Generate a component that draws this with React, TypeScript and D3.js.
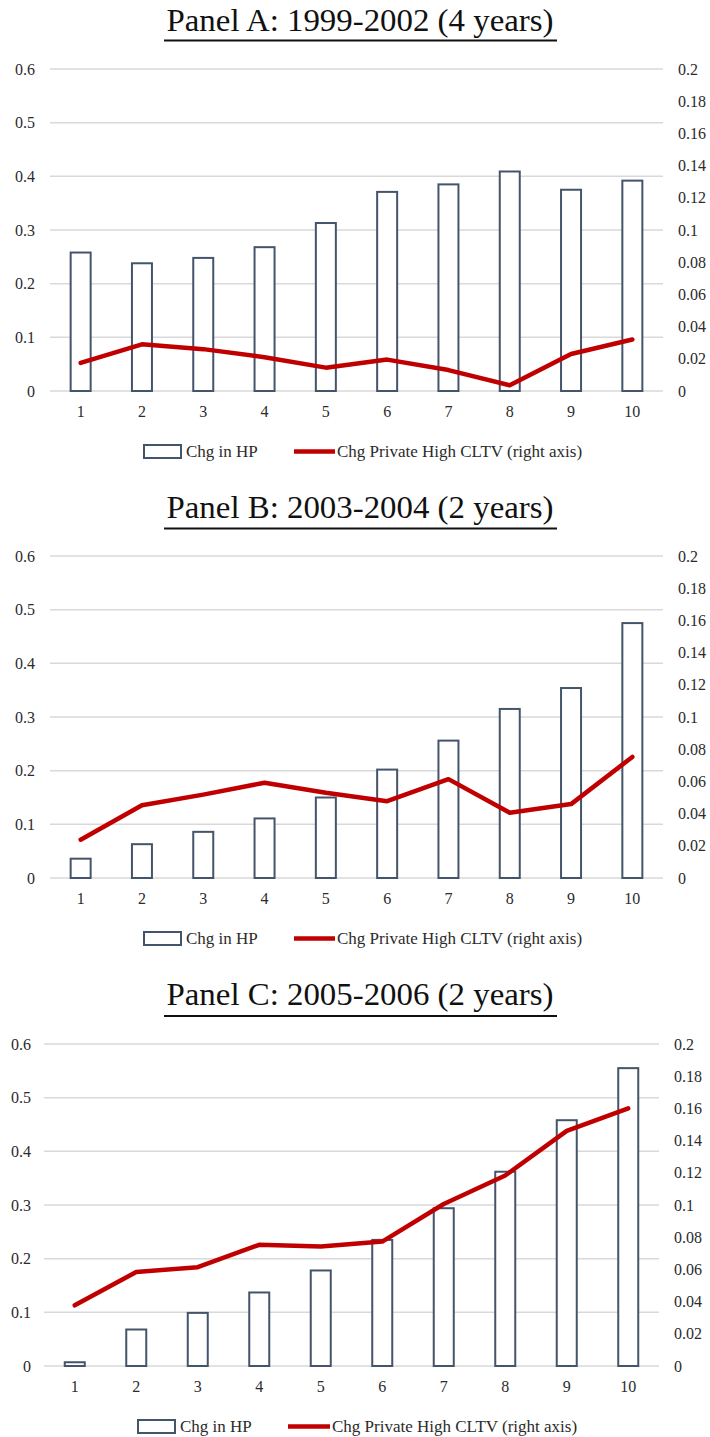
import React from "react";
import * as d3 from "d3";

const categories = ["1", "2", "3", "4", "5", "6", "7", "8", "9", "10"];

const panelTitles = [
  "Panel A: 1999-2002 (4 years)",
  "Panel B: 2003-2004 (2 years)",
  "Panel C: 2005-2006 (2 years)",
];

const hpA = [0.258, 0.238, 0.248, 0.268, 0.313, 0.371, 0.385, 0.409, 0.375, 0.392];
const cltvA = [0.0175, 0.029, 0.026, 0.021, 0.0145, 0.0195, 0.013, 0.0035, 0.023, 0.032];

const hpB = [0.036, 0.063, 0.086, 0.111, 0.15, 0.202, 0.256, 0.315, 0.354, 0.475];
const cltvB = [0.0238, 0.0452, 0.0518, 0.0592, 0.053, 0.0477, 0.0614, 0.0405, 0.0459, 0.0752];

const hpC = [0.007, 0.068, 0.099, 0.137, 0.178, 0.235, 0.294, 0.362, 0.458, 0.555];
const cltvC = [0.0377, 0.0584, 0.0614, 0.0753, 0.0742, 0.0773, 0.1006, 0.1183, 0.146, 0.16];

const leftTicks = [0, 0.1, 0.2, 0.3, 0.4, 0.5, 0.6];
const rightTicks = [0, 0.02, 0.04, 0.06, 0.08, 0.1, 0.12, 0.14, 0.16, 0.18, 0.2];

const legendBar = "Chg in HP";
const legendLine = "Chg Private High CLTV (right axis)";

const series = [
  { hp: hpA, cltv: cltvA },
  { hp: hpB, cltv: cltvB },
  { hp: hpC, cltv: cltvC },
];

// layout (positions only)
const layout = [
  { oy: 0, x0: 50, x1: 663, leftX: 35, rightX: 678, titleY: 31, ulY: 40.5, ulX0: 164, ulX1: 557, legRect: 144, legText: 186, legLine0: 294, legLine1: 335, legText2: 337 },
  { oy: 487, x0: 50, x1: 663, leftX: 35, rightX: 678, titleY: 31, ulY: 41.5, ulX0: 164, ulX1: 557, legRect: 144, legText: 186, legLine0: 294, legLine1: 335, legText2: 337 },
  { oy: 975, x0: 44, x1: 659, leftX: 31, rightX: 674, titleY: 30, ulY: 41, ulX0: 164, ulX1: 557, legRect: 138, legText: 180, legLine0: 288, legLine1: 330, legText2: 332 },
];

const FONT = "'Liberation Serif', 'Times New Roman', serif";
const BAR_COLOR = "#44546A";
const LINE_COLOR = "#C00000";
const GRID_COLOR = "#D9D9D9";
const TEXT_COLOR = "#2b2b2b";

function Panel({ idx }: { idx: number }) {
  const L = layout[idx];
  const { hp, cltv } = series[idx];
  const top = 69 + L.oy;
  const bottom = 391 + L.oy;

  const x = d3.scaleBand<string>().domain(categories).range([L.x0, L.x1]);
  const yL = d3.scaleLinear().domain([0, 0.6]).range([bottom, top]);
  const yR = d3.scaleLinear().domain([0, 0.2]).range([bottom, top]);
  const barW = 20;

  const line = d3
    .line<number>()
    .x((_, i) => (x(categories[i]) as number) + x.bandwidth() / 2)
    .y((d) => yR(d));

  const legY = 451.5 + L.oy;

  return (
    <g>
      <text
        x={360}
        y={L.titleY + L.oy}
        textAnchor="middle"
        fontFamily={FONT}
        fontSize={31}
        fill="#111"
        textLength={L.ulX1 - L.ulX0 - 6}
        lengthAdjust="spacingAndGlyphs"
      >
        {panelTitles[idx]}
      </text>
      <line x1={L.ulX0} x2={L.ulX1} y1={L.ulY + L.oy} y2={L.ulY + L.oy} stroke="#111" strokeWidth={2} />

      {leftTicks.map((t) => (
        <g key={"g" + t}>
          <line x1={L.x0} x2={L.x1} y1={yL(t)} y2={yL(t)} stroke={GRID_COLOR} strokeWidth={1.5} />
          <text x={L.leftX} y={yL(t) + 5.5} textAnchor="end" fontFamily={FONT} fontSize={16} fill={TEXT_COLOR}>
            {String(t)}
          </text>
        </g>
      ))}
      {rightTicks.map((t) => (
        <text key={"r" + t} x={L.rightX} y={yR(t) + 5.5} textAnchor="start" fontFamily={FONT} fontSize={16} fill={TEXT_COLOR}>
          {String(+t.toFixed(2))}
        </text>
      ))}

      {hp.map((v, i) => {
        const cx = (x(categories[i]) as number) + x.bandwidth() / 2;
        return (
          <rect
            key={"b" + i}
            x={cx - barW / 2}
            y={yL(v)}
            width={barW}
            height={bottom - yL(v)}
            fill="#fff"
            stroke={BAR_COLOR}
            strokeWidth={2}
          />
        );
      })}

      <path d={line(cltv) || ""} fill="none" stroke={LINE_COLOR} strokeWidth={4.5} strokeLinejoin="round" strokeLinecap="round" />

      {categories.map((c) => (
        <text
          key={"x" + c}
          x={(x(c) as number) + x.bandwidth() / 2}
          y={bottom + 26}
          textAnchor="middle"
          fontFamily={FONT}
          fontSize={16}
          fill={TEXT_COLOR}
        >
          {c}
        </text>
      ))}

      <rect x={L.legRect} y={legY - 6.5} width={37} height={13} fill="#fff" stroke={BAR_COLOR} strokeWidth={2} />
      <text x={L.legText} y={legY + 5.5} fontFamily={FONT} fontSize={17} fill={TEXT_COLOR}>
        {legendBar}
      </text>
      <line x1={L.legLine0} x2={L.legLine1} y1={legY} y2={legY} stroke={LINE_COLOR} strokeWidth={4.5} />
      <text x={L.legText2} y={legY + 5.5} fontFamily={FONT} fontSize={17} fill={TEXT_COLOR}>
        {legendLine}
      </text>
    </g>
  );
}

export default function App() {
  return (
    <div style={{ position: "absolute", left: 0, top: 0 }}>
      <svg width={710} height={1437} style={{ display: "block", background: "#fff" }}>
        <rect width={710} height={1437} fill="#fff" />
        {[0, 1, 2].map((i) => (
          <Panel key={i} idx={i} />
        ))}
      </svg>
    </div>
  );
}
